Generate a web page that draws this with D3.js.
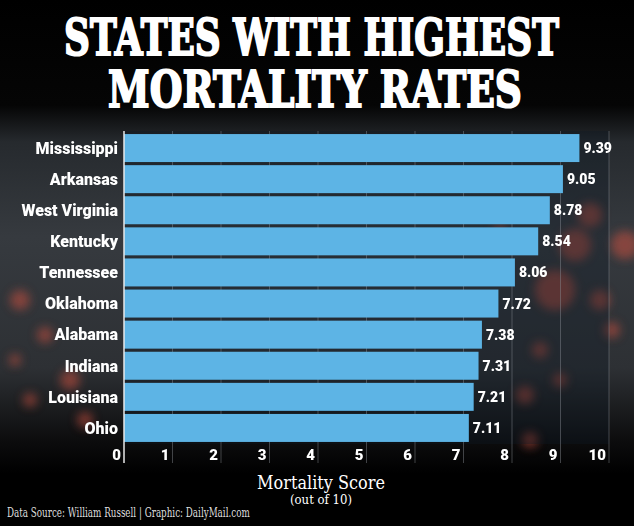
<!DOCTYPE html>
<html>
<head>
<meta charset="utf-8">
<script src="https://cdn.jsdelivr.net/npm/d3@7"></script>
<style>
  html, body { margin: 0; padding: 0; background: #000; }
  svg { display: block; }
</style>
</head>
<body>
<svg id="chart" width="634" height="526"></svg>
<script>
const states = ["Mississippi","Arkansas","West Virginia","Kentucky","Tennessee","Oklahoma","Alabama","Indiana","Louisiana","Ohio"];
const scores = [9.39, 9.05, 8.78, 8.54, 8.06, 7.72, 7.38, 7.31, 7.21, 7.11];
const xTicks = [0,1,2,3,4,5,6,7,8,9,10];
const titleLines = ["STATES WITH HIGHEST", "MORTALITY RATES"];

const W = 634, H = 526;
const svg = d3.select("#chart");
const defs = svg.append("defs");

// background gradient
const bg = defs.append("linearGradient").attr("id","bg").attr("x1",0).attr("y1",0).attr("x2",0).attr("y2",1);
[[0,"#000"],[0.2,"#050505"],[0.27,"#262a2e"],[0.45,"#363a3f"],[0.7,"#2d3034"],[0.84,"#0c0c0d"],[0.9,"#000"],[1,"#000"]]
  .forEach(([o,c]) => bg.append("stop").attr("offset",o).attr("stop-color",c));
svg.append("rect").attr("width",W).attr("height",H).attr("fill","url(#bg)");

const blur = defs.append("filter").attr("id","blur").attr("x","-50%").attr("y","-50%").attr("width","200%").attr("height","200%");
blur.append("feGaussianBlur").attr("stdDeviation",5);

// decorative blurred spots (background imagery)
const spots = [
  [590,215,12],[625,245,14],[575,245,16],[555,290,20],[600,300,10],[540,350,8],[612,330,8],
  [525,395,9],[560,380,7],[530,440,8],[500,230,7],
  [20,300,10],[45,335,8],[70,380,10],[30,400,7],[85,420,8],[15,360,6]
];
svg.append("g").attr("filter","url(#blur)")
  .selectAll("circle").data(spots).join("circle")
  .attr("cx",d=>d[0]).attr("cy",d=>d[1]).attr("r",d=>d[2])
  .attr("fill","#c8503f").attr("opacity",0.55);

// helper: fit a text to a target width by horizontal scaling
function fitText(sel, cx, baseline, target, anchor) {
  sel.attr("text-anchor", anchor).attr("x", 0).attr("y", 0);
  const w = sel.node().getComputedTextLength();
  const s = target / w;
  sel.attr("transform", `translate(${cx},${baseline}) scale(${s},1)`);
}

// title
const titlePos = [[311.5, 55, 495], [315, 107, 414]];
titleLines.forEach((t, i) => {
  const el = svg.append("text")
    .attr("font-family","'DejaVu Serif', serif")
    .attr("font-weight","bold")
    .attr("font-size",50)
    .attr("fill","#fff")
    .attr("stroke","#fff").attr("stroke-width",2)
    .text(t);
  fitText(el, titlePos[i][0], titlePos[i][1], titlePos[i][2], "middle");
});

const x = d3.scaleLinear().domain([0,10]).range([124,609]);
const y = d3.scaleBand().domain(states).range([132.5,443.5]).paddingInner(0.1).paddingOuter(0.05);

// plot backdrop (slightly darker)
svg.append("rect").attr("x",124).attr("y",131).attr("width",x(10)-124).attr("height",313)
  .attr("fill","#0d1a24").attr("opacity",0.35);

// gridlines
svg.append("g").selectAll("line").data(xTicks.slice(1)).join("line")
  .attr("x1",d=>x(d)).attr("x2",d=>x(d)).attr("y1",131).attr("y2",463)
  .attr("stroke","#8a8f94").attr("stroke-opacity",0.45).attr("stroke-width",1);

// bars
svg.append("g").selectAll("rect").data(states).join("rect")
  .attr("x",x(0)).attr("y",d=>y(d))
  .attr("width",(d,i)=>x(scores[i])-x(0))
  .attr("height",y.bandwidth())
  .attr("fill","#5db4e5");

// axis line
svg.append("line").attr("x1",124).attr("x2",124).attr("y1",131).attr("y2",463)
  .attr("stroke","#e8e8e8").attr("stroke-width",1.5);

// state labels
svg.append("g").selectAll("text").data(states).join("text")
  .attr("x",118).attr("y",d=>y(d)+y.bandwidth()/2)
  .attr("dy","0.36em")
  .attr("text-anchor","end")
  .attr("font-family","Roboto, sans-serif").attr("font-weight",900).attr("font-size",16)
  .attr("fill","#fff").text(d=>d);

// value labels
svg.append("g").selectAll("text").data(states).join("text")
  .attr("x",(d,i)=>x(scores[i])+4).attr("y",d=>y(d)+y.bandwidth()/2)
  .attr("dy","0.36em")
  .attr("font-family","Roboto, sans-serif").attr("font-weight",900).attr("font-size",14)
  .attr("fill","#fff").text((d,i)=>scores[i].toFixed(2));

// tick labels
svg.append("g").selectAll("text").data(xTicks).join("text")
  .attr("x",d=>x(d)-3).attr("y",460)
  .attr("text-anchor","end")
  .attr("font-family","Roboto, sans-serif").attr("font-weight",900).attr("font-size",15)
  .attr("fill","#fff").text(d=>d);

// axis title
const at = svg.append("text")
  .attr("font-family","'DejaVu Serif', serif").attr("font-size",18)
  .attr("fill","#fff").text("Mortality Score");
fitText(at, 321, 489, 128, "middle");
const st = svg.append("text")
  .attr("font-family","'DejaVu Serif', serif").attr("font-size",12)
  .attr("fill","#fff").text("(out of 10)");
fitText(st, 321, 503.5, 62, "middle");

// footer
const ft = svg.append("text")
  .attr("font-family","'DejaVu Serif', serif").attr("font-size",12)
  .attr("fill","#ddd").text("Data Source: William Russell |  Graphic: DailyMail.com");
fitText(ft, 7, 517, 243, "start");
</script>
</body>
</html>
